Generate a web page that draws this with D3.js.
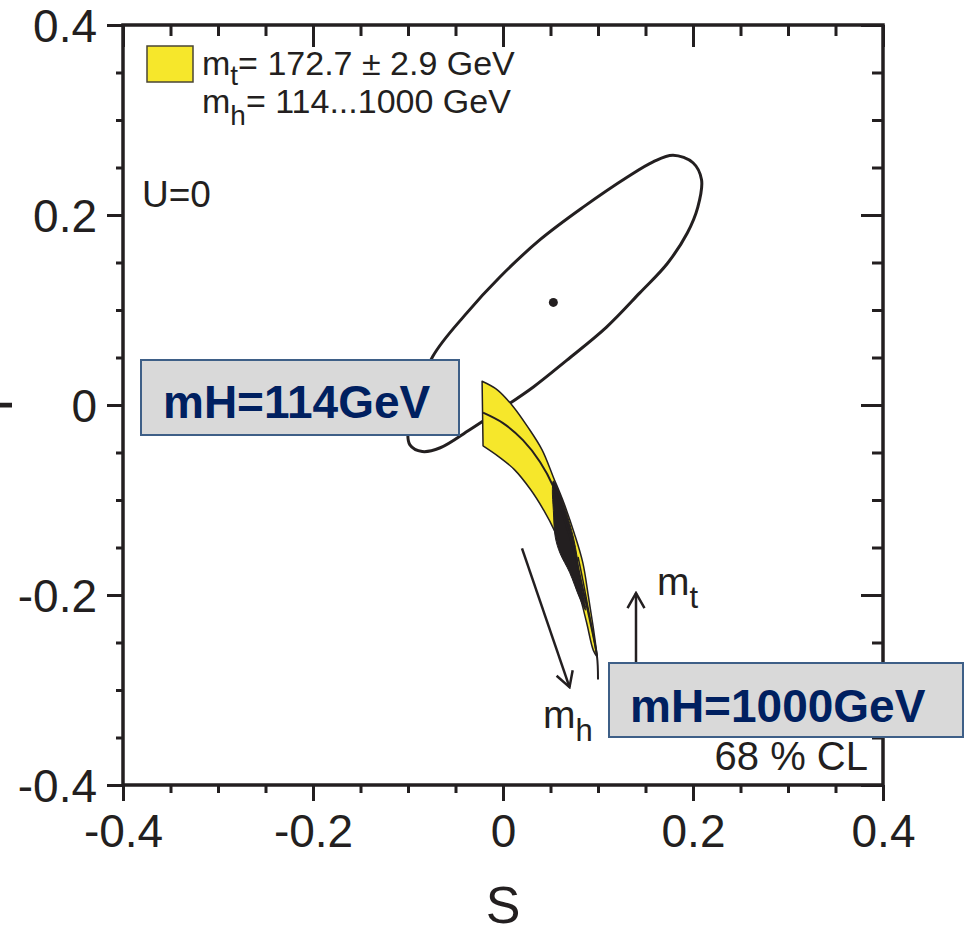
<!DOCTYPE html>
<html>
<head>
<meta charset="utf-8">
<script src="https://cdn.jsdelivr.net/npm/d3@7"></script>
<style>
    body { margin: 0; background: #fff; }
    svg { display: block; }
    text { font-family: "Liberation Sans", Arial, Helvetica, sans-serif; fill: #231f20; }
</style>
</head>
<body>
<svg id="chart" width="965" height="927"></svg>
<script>
// axis ticks (S and T share the same range)
const majorTicks = [-0.4, -0.2, 0, 0.2, 0.4]
const minorTicks = [-0.35, -0.3, -0.25, -0.15, -0.1, -0.05, 0.05, 0.1, 0.15, 0.25, 0.3, 0.35]

// 68% CL contour of the fit, [S, T]
const ellipsePoints = [
    [0.179, 0.263], [0.200, 0.255], [0.209, 0.237], [0.205, 0.208], [0.194, 0.181],
    [0.173, 0.149], [0.144, 0.118], [0.109, 0.082], [0.067, 0.047], [0.032, 0.019],
    [-0.003, -0.005], [-0.035, -0.026], [-0.066, -0.045], [-0.085, -0.049], [-0.098, -0.042],
    [-0.100, -0.026], [-0.093, 0.000], [-0.074, 0.051], [-0.038, 0.097], [-0.003, 0.135],
    [0.039, 0.174], [0.084, 0.208], [0.131, 0.240], [0.158, 0.256]
]
const bestFit = [0.053, 0.108]

// SM prediction band (mt = 172.7 +- 2.9, mh = 114...1000)
const bandUpper = [
    [-0.022, 0.025], [-0.006, 0.016], [0.011, -0.002], [0.026, -0.023], [0.041, -0.047],
    [0.053, -0.076], [0.064, -0.103], [0.075, -0.135], [0.084, -0.166], [0.090, -0.202],
    [0.095, -0.234], [0.099, -0.263]
]
const bandLower = [
    [0.099, -0.265], [0.095, -0.258], [0.088, -0.229], [0.081, -0.202], [0.072, -0.177],
    [0.063, -0.155], [0.054, -0.132], [0.043, -0.111], [0.029, -0.089], [0.012, -0.068],
    [-0.005, -0.054], [-0.021, -0.043]
]
const centralLine = [
    [-0.021, -0.008], [0.000, -0.019], [0.021, -0.037], [0.039, -0.060], [0.053, -0.086],
    [0.065, -0.121], [0.076, -0.158], [0.083, -0.189], [0.092, -0.229], [0.099, -0.265],
    [0.100, -0.289]
]
const innerLine = [[0.079, -0.160], [0.084, -0.184], [0.090, -0.216], [0.095, -0.242], [0.099, -0.265]]
const blackRegion = [
    [0.053, -0.080], [0.058, -0.089], [0.066, -0.111], [0.074, -0.139], [0.078, -0.160],
    [0.080, -0.177], [0.085, -0.202], [0.087, -0.216], [0.081, -0.204], [0.070, -0.176],
    [0.060, -0.156], [0.055, -0.139], [0.053, -0.111], [0.052, -0.089]
]

// direction arrows [from, to]
const mhArrow = [[0.020, -0.151], [0.070, -0.297]]
const mtArrow = [[0.140, -0.320], [0.140, -0.198]]

const ink = '#231f20'
const svg = d3.select('#chart')

const x = d3.scaleLinear().domain([-0.4, 0.4]).range([123, 883])
const y = d3.scaleLinear().domain([-0.4, 0.4]).range([785, 25])
const fmt = d => String(d)

function drawAxis(axis, transform, labels) {
    const g = svg.append('g').attr('transform', transform).call(axis)
    g.select('.domain').remove()
    g.selectAll('line').attr('stroke', ink).attr('stroke-width', 3)
    g.selectAll('text').style('font-size', '46px').attr('fill', ink)
    if (!labels) g.selectAll('text').remove()
    return g
}

// bottom & left: outward ticks with labels
drawAxis(d3.axisBottom(x).tickValues(majorTicks).tickFormat(fmt).tickSize(16).tickPadding(13), 'translate(0,785)', true)
drawAxis(d3.axisBottom(x).tickValues(minorTicks).tickSize(8), 'translate(0,785)', false)
const leftAx = drawAxis(d3.axisLeft(y).tickValues(majorTicks).tickFormat(fmt).tickSize(16).tickPadding(10), 'translate(123,0)', true)
leftAx.selectAll('text').attr('dy', '0.36em')
drawAxis(d3.axisLeft(y).tickValues(minorTicks).tickSize(7), 'translate(123,0)', false)
// top & right: inward ticks
drawAxis(d3.axisTop(x).tickValues(majorTicks).tickSize(-22), 'translate(0,25)', false)
drawAxis(d3.axisTop(x).tickValues(minorTicks).tickSize(-11), 'translate(0,25)', false)
drawAxis(d3.axisRight(y).tickValues(majorTicks).tickSize(-22), 'translate(883,0)', false)
drawAxis(d3.axisRight(y).tickValues(minorTicks).tickSize(-11), 'translate(883,0)', false)

// frame
svg.append('rect')
    .attr('x', x(-0.4)).attr('y', y(0.4))
    .attr('width', x(0.4) - x(-0.4)).attr('height', y(-0.4) - y(0.4))
    .attr('fill', 'none').attr('stroke', ink).attr('stroke-width', 3.5)

// axis titles
svg.append('text').attr('x', x(0)).attr('y', 923).attr('text-anchor', 'middle')
    .style('font-size', '52px').text('S')
svg.append('text').attr('transform', 'translate(12,' + y(0) + ') rotate(-90)')
    .attr('text-anchor', 'middle').style('font-size', '52px').text('T')

// ellipse
svg.append('path')
    .attr('d', d3.line().x(d => x(d[0])).y(d => y(d[1])).curve(d3.curveCatmullRomClosed)(ellipsePoints))
    .attr('fill', 'none').attr('stroke', ink).attr('stroke-width', 3)
svg.append('circle').attr('cx', x(bestFit[0])).attr('cy', y(bestFit[1])).attr('r', 4.5).attr('fill', ink)

// band
const curve = d3.line().x(d => x(d[0])).y(d => y(d[1])).curve(d3.curveCatmullRom)
const bandPath = curve(bandUpper) + 'L' + curve(bandLower).slice(1) + 'Z'
svg.append('path').attr('d', bandPath)
    .attr('fill', '#f6e72b').attr('stroke', ink).attr('stroke-width', 1.5).attr('stroke-linejoin', 'round')
svg.append('path').attr('d', d3.line().x(d => x(d[0])).y(d => y(d[1])).curve(d3.curveCatmullRomClosed)(blackRegion))
    .attr('fill', ink).attr('stroke', ink).attr('stroke-width', 1)
svg.append('path').attr('d', curve(centralLine))
    .attr('fill', 'none').attr('stroke', ink).attr('stroke-width', 2)
svg.append('path').attr('d', curve(innerLine))
    .attr('fill', 'none').attr('stroke', ink).attr('stroke-width', 1.5)

// arrows
svg.append('defs').append('marker')
    .attr('id', 'head').attr('viewBox', '-16 -10 18 20')
    .attr('markerWidth', 18).attr('markerHeight', 20).attr('refX', 0).attr('refY', 0)
    .attr('orient', 'auto').attr('markerUnits', 'userSpaceOnUse')
    .append('path').attr('d', 'M-15,-8.5L0,0L-15,8.5')
    .attr('fill', 'none').attr('stroke', ink).attr('stroke-width', 2.5)
;[mhArrow, mtArrow].forEach(a => {
    svg.append('line')
        .attr('x1', x(a[0][0])).attr('y1', y(a[0][1]))
        .attr('x2', x(a[1][0])).attr('y2', y(a[1][1]))
        .attr('stroke', ink).attr('stroke-width', 2.5).attr('marker-end', 'url(#head)')
})

// m_t / m_h arrow labels
const mt = svg.append('text').attr('x', 657).attr('y', 595).style('font-size', '39px')
mt.append('tspan').text('m')
mt.append('tspan').attr('dy', 13).style('font-size', '31px').text('t')
const mh = svg.append('text').attr('x', 543).attr('y', 728).style('font-size', '39px')
mh.append('tspan').text('m')
mh.append('tspan').attr('dy', 13).style('font-size', '31px').text('h')

svg.append('text').attr('x', 868).attr('y', 770).attr('text-anchor', 'end')
    .style('font-size', '40px').text('68 % CL')

// legend
svg.append('rect').attr('x', 147).attr('y', 46).attr('width', 46).attr('height', 36)
    .attr('fill', '#f6e72b').attr('stroke', '#4a4535').attr('stroke-width', 1.5)
const l1 = svg.append('text').attr('x', 202).attr('y', 75).style('font-size', '34px')
l1.append('tspan').text('m')
l1.append('tspan').attr('dy', 10).style('font-size', '28px').text('t')
l1.append('tspan').attr('dy', -10).text('= 172.7 ± 2.9 GeV')
const l2 = svg.append('text').attr('x', 202).attr('y', 113).style('font-size', '34px')
l2.append('tspan').text('m')
l2.append('tspan').attr('dy', 12).style('font-size', '28px').text('h')
l2.append('tspan').attr('dy', -12).text('= 114...1000 GeV')

svg.append('text').attr('x', 142).attr('y', 207).style('font-size', '37px').text('U=0')

// callout boxes
function callout(bx, by, bw, bh, tx, ty, label) {
    svg.append('rect').attr('x', bx).attr('y', by).attr('width', bw).attr('height', bh)
        .attr('fill', '#d9d9d9').attr('stroke', '#3e5f87').attr('stroke-width', 2)
    svg.append('text').attr('x', tx).attr('y', ty)
        .style('font-size', '46px').style('font-weight', 'bold').style('fill', '#002060')
        .text(label)
}
callout(141, 360, 318, 75, 163, 418, 'mH=114GeV')
callout(609, 663, 354, 74, 630, 722, 'mH=1000GeV')
</script>
</body>
</html>
